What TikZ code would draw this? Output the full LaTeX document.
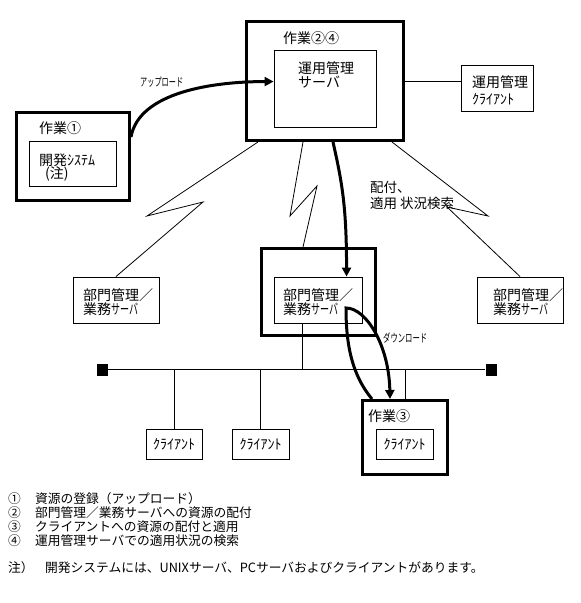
\documentclass[tikz,border=0pt]{standalone}
\usepackage{fontspec}
\usepackage{graphicx}
\newfontfamily\jp{Noto Sans CJK JP}
\usetikzlibrary{calc,arrows.meta}
\newcommand{\hwsrv}{\resizebox{27pt}{\height}{サーバ}}
\begin{document}
\begin{tikzpicture}[x=1pt,y=-1pt,
  thickbox/.style={draw,line width=3pt,inner sep=0pt},
  thinbox/.style={draw,line width=0.9pt,inner sep=0pt},
  thinline/.style={line width=0.8pt},
  lbl/.style={font=\jp\fontsize{14}{14}\selectfont,inner sep=0pt,anchor=west,text height=12.3pt,text depth=1.7pt},
  mlbl/.style={font=\jp\fontsize{13.5}{13.5}\selectfont,inner sep=0pt,anchor=west,text height=11.9pt,text depth=1.6pt},
  slbl/.style={font=\jp\fontsize{11.5}{11.5}\selectfont,inner sep=0pt,anchor=west,text height=10.1pt,text depth=1.4pt},
  flbl/.style={font=\jp\fontsize{12.75}{12.75}\selectfont,inner sep=0pt,anchor=west,text height=11.2pt,text depth=1.55pt},
  bigarrow/.style={line width=3pt,-{Triangle[length=9pt,width=9pt]}},
  busend/.style={fill=black,draw=none,minimum width=11pt,minimum height=12pt,inner sep=0pt},
]
\fill[white] (0,0) rectangle (581,603);
\useasboundingbox (0,0) rectangle (581,603);

% boxes
\node[thickbox,minimum width=113pt,minimum height=88pt] (w1) at (73,156.5) {};
\node[thinbox,minimum width=87pt,minimum height=45pt] (i1) at (72.5,163.5) {};
\node[thickbox,minimum width=157pt,minimum height=119pt] (b24) at (325,81) {};
\node[thinbox,minimum width=102pt,minimum height=77pt] (s24) at (325,88.5) {};
\node[thinbox,minimum width=72pt,minimum height=46pt] (r) at (497,88) {};
\node[thinbox,minimum width=86pt,minimum height=46pt] (d1) at (116,300) {};
\node[thickbox,minimum width=114pt,minimum height=87pt] (mo) at (318.5,292) {};
\node[thinbox,minimum width=88pt,minimum height=46pt] (mi) at (318,300) {};
\node[thinbox,minimum width=86pt,minimum height=46pt] (d3) at (520,300) {};
\node[thinbox,minimum width=56pt,minimum height=30pt] (c1) at (174,444) {};
\node[thinbox,minimum width=57pt,minimum height=30pt] (c2) at (260.5,444) {};
\node[thickbox,minimum width=85pt,minimum height=74pt] (w3) at (405,437.5) {};
\node[thinbox,minimum width=57pt,minimum height=30pt] (c3) at (404.5,444) {};

% bus
\node[busend] (sqL) at (102.5,369.5) {};
\node[busend] (sqR) at (491,369.5) {};
\draw[thinline] (sqL) -- (sqR);
\draw[thinline] (c1.north) -- (c1.north |- sqL);
\draw[thinline] (c2.north) -- (c2.north |- sqL);
\draw[thinline] (w3.north) -- (w3.north |- sqL);
\coordinate (mtap) at ($(mi.south west)+(29,0)$);
\draw[thinline] (mtap) -- (mtap |- sqL);

% link to client of operation management
\draw[thinline] (b24.east) -- (b24.east -| r.west);

% lightning links
\draw[thinline] ($(b24.south west)+(13,0)$) -- (147,216) -- (203,202) -- (d1.north);
\draw[thinline] ($(b24.south west)+(58,0)$) -- (290,216) -- (317,186) -- ($(mo.north west)+(43,0)$);
\draw[thinline] ($(b24.south east)+(-13,0)$) -- (488,216) -- (447,207) -- (d3.north);

% thick arrows
\draw[bigarrow] ($(w1.north east)+(0,26)$) .. controls +(8,-45) and +(-60,0) .. ($(s24.north west)+(0,32)$);
\draw[bigarrow] ($(b24.south west)+(88,0)$) .. controls +(9,40) and +(0,-70) .. ($(mi.north west)+(73,0)$);
\draw[bigarrow,line join=miter] ($(w3.north west)+(11,0)$) .. controls (352,375) and (346,345) .. (346,308) .. controls (366,308) and (389,345) .. ($(w3.north west)+(29,0)$);

% labels
\node[lbl] (t1) at (39,128) {作業①};
\node[lbl] (t1a) at (39,160) {開発ｼｽﾃﾑ};
\node[lbl] (t1b) at (45,173) {(注)};
\node[lbl] (t24) at (283,38) {作業②④};
\node[lbl] (t24a) at (298,68) {運用管理};
\node[lbl] (t24b) at (298,82) {サーバ};
\node[lbl] (tr1) at (472,82) {運用管理};
\node[lbl] (tr2) at (472,99) {ｸﾗｲｱﾝﾄ};
\node[lbl] (td1a) at (83,295) {部門管理／};
\node[lbl] (td1b) at (83,309) {業務\hwsrv};
\node[lbl] (tmia) at (283,295) {部門管理／};
\node[lbl] (tmib) at (283,309) {業務\hwsrv};
\node[lbl] (td3a) at (493,295) {部門管理／};
\node[lbl] (td3b) at (493,309) {業務\hwsrv};
\node[lbl,anchor=center] (tc1) at (c1) {ｸﾗｲｱﾝﾄ};
\node[lbl,anchor=center] (tc2) at (c2) {ｸﾗｲｱﾝﾄ};
\node[lbl,anchor=center] (tc3) at (c3) {ｸﾗｲｱﾝﾄ};
\node[lbl] (t3) at (368,416) {作業③};
\node[slbl] (tup) at (140,82) {\resizebox{43pt}{\height}{アップロード}};
\node[slbl] (tdl) at (383,338) {\resizebox{44pt}{\height}{ダウンロード}};
\node[mlbl] (tdist1) at (370,187) {配付、};
\node[mlbl] (tdist2) at (370,203) {適用\hspace{3pt}状況検索};

% footer
\node[flbl] (n1) at (8,499) {①};
\node[flbl] (f1) at (35,499) {資源の登録（アップロード）};
\node[flbl] (n2) at (8,513) {②};
\node[flbl] (f2) at (35,513) {部門管理／業務サーバへの資源の配付};
\node[flbl] (n3) at (8,527) {③};
\node[flbl] (f3) at (35,527) {クライアントへの資源の配付と適用};
\node[flbl] (n4) at (8,541) {④};
\node[flbl] (f4) at (35,541) {運用管理サーバでの適用状況の検索};
\node[flbl] (nn) at (8,568) {注）};
\node[flbl] (fn) at (45,568) {開発システムには、UNIXサーバ、PCサーバおよびクライアントがあります。};
\end{tikzpicture}
\end{document}
